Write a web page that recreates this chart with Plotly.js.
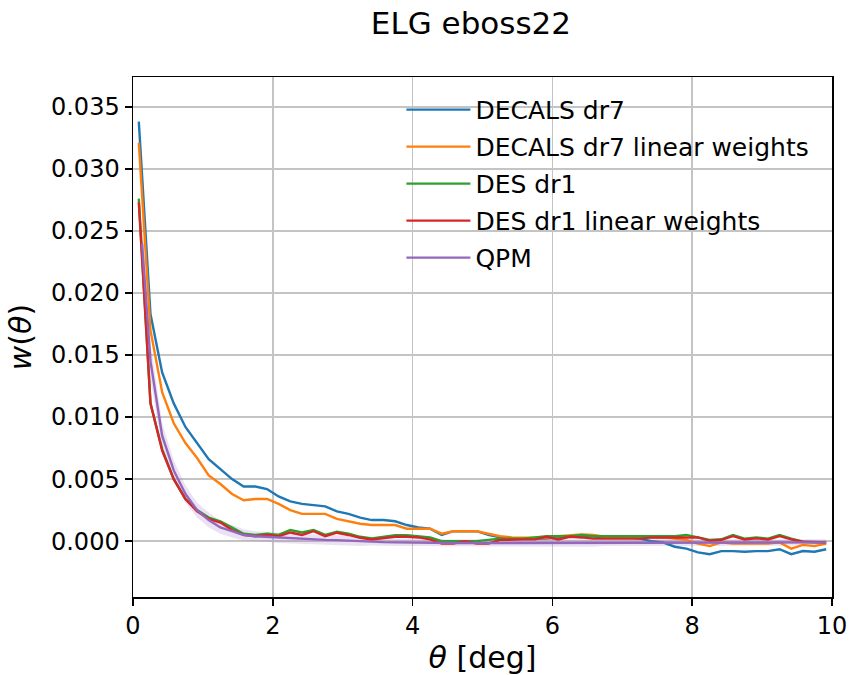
<!DOCTYPE html>
<html>
<head>
<meta charset="utf-8">
<script src="https://cdn.plot.ly/plotly-3.0.1.min.js"></script>
<style>html,body{margin:0;padding:0;background:#fff;}</style>
</head>
<body>
<div id="chart" style="width:850px;height:675px;"></div>
<script>
const theta = [0.083, 0.25, 0.417, 0.583, 0.75, 0.917, 1.083, 1.25, 1.417, 1.583,
  1.75, 1.917, 2.083, 2.25, 2.417, 2.583, 2.75, 2.917, 3.083, 3.25,
  3.417, 3.583, 3.75, 3.917, 4.083, 4.25, 4.417, 4.583, 4.75, 4.917,
  5.083, 5.25, 5.417, 5.583, 5.75, 5.917, 6.083, 6.25, 6.417, 6.583,
  6.75, 6.917, 7.083, 7.25, 7.417, 7.583, 7.75, 7.917, 8.083, 8.25,
  8.417, 8.583, 8.75, 8.917, 9.083, 9.25, 9.417, 9.583, 9.75, 9.917];

const qpmTheta = [0.13, 0.25, 0.417, 0.583, 0.75, 0.917, 1.083, 1.25, 1.417, 1.583,
  1.75, 1.917, 2.083, 2.25, 2.417, 2.583, 2.75, 2.917, 3.083, 3.25,
  3.417, 3.583, 3.75, 3.917, 4.083, 4.25, 4.417, 4.583, 4.75, 4.917,
  5.083, 5.25, 5.417, 5.583, 5.75, 5.917, 6.083, 6.25, 6.417, 6.583,
  6.75, 6.917, 7.083, 7.25, 7.417, 7.583, 7.75, 7.917, 8.083, 8.25,
  8.417, 8.583, 8.75, 8.917, 9.083, 9.25, 9.417, 9.583, 9.75, 9.917];

const decalsDr7 = [0.0338, 0.0183, 0.0136, 0.0111, 0.0092, 0.0079, 0.0066, 0.0058, 0.0050, 0.0044,
  0.0044, 0.0042, 0.0036, 0.0032, 0.0030, 0.0029, 0.0028, 0.0024, 0.0022, 0.0019,
  0.0017, 0.0017, 0.0016, 0.0013, 0.0011, 0.0010, 0.0005, 0.0008, 0.0008, 0.0008,
  0.0005, 0.0003, 0.0002, 0.0002, 0.0002, 0.0002, 0.0003, 0.0004, 0.0004, 0.0004,
  0.0003, 0.0003, 0.0003, 0.0002, 0.0000, -0.0001, -0.00045, -0.0006, -0.0009, -0.00105,
  -0.0008, -0.0008, -0.00085, -0.0008, -0.0008, -0.00065, -0.00105, -0.0008, -0.00085, -0.00065];

const decalsDr7Lin = [0.0321, 0.0170, 0.0120, 0.0095, 0.0079, 0.0067, 0.0053, 0.0046, 0.0038, 0.0033,
  0.0034, 0.0034, 0.0030, 0.0025, 0.0022, 0.0022, 0.0022, 0.0018, 0.0016, 0.0014,
  0.0013, 0.0013, 0.0013, 0.0010, 0.0010, 0.0010, 0.0006, 0.0008, 0.0008, 0.0008,
  0.0006, 0.0004, 0.0003, 0.0003, 0.0003, 0.00025, 0.0004, 0.0005, 0.00055, 0.0005,
  0.00035, 0.0003, 0.0003, 0.0003, 0.0003, 0.0003, 0.0002, 0.0001, -0.0002, -0.0004,
  -0.0001, -0.0002, -0.0002, -0.0002, -0.0002, -0.0001, -0.0006, -0.0003, -0.0004, -0.0002];

const desDr1 = [0.0276, 0.0111, 0.0074, 0.0050, 0.0034, 0.0025, 0.0019, 0.0016, 0.0011, 0.0006,
  0.0005, 0.0006, 0.0005, 0.0009, 0.0007, 0.0009, 0.0005, 0.00075, 0.0006, 0.00035,
  0.00022, 0.00035, 0.00048, 0.00048, 0.0004, 0.0003, 0.0000, 0.0000, 0.0000, 0.0000,
  0.0001, 0.0002, 0.0002, 0.0002, 0.0003, 0.0004, 0.0004, 0.0004, 0.0005, 0.0004,
  0.0004, 0.0004, 0.0004, 0.0004, 0.0004, 0.0004, 0.0004, 0.0005, 0.0003, 0.0001,
  0.00015, 0.0005, 0.0002, 0.0003, 0.0002, 0.0005, 0.0002, -0.00005, -0.0001, -0.0001];

const desDr1Lin = [0.0273, 0.0111, 0.0073, 0.0050, 0.0034, 0.0024, 0.0018, 0.0015, 0.0009, 0.0005,
  0.0004, 0.0005, 0.0004, 0.0007, 0.0005, 0.0008, 0.0004, 0.00068, 0.0005, 0.00027,
  0.00014, 0.00027, 0.00035, 0.00035, 0.0003, 0.00014, -0.0002, -0.0002, 0.0000, -0.0002,
  -0.0002, 0.0001, 0.00014, 0.00014, 0.00014, 0.00035, 0.00014, 0.00035, 0.0003, 0.0002,
  0.0002, 0.0002, 0.0002, 0.0002, 0.0003, 0.0003, 0.0003, 0.0003, 0.0003, 0.00003,
  0.0001, 0.0004, 0.00014, 0.00022, 0.00014, 0.0004, 0.00014, -0.00005, -0.0001, -0.0001];

const qpm = [0.0240, 0.0145, 0.0085, 0.0057, 0.0038, 0.0025, 0.0017, 0.0011, 0.0008, 0.0005,
  0.0004, 0.00035, 0.00025, 0.0002, 0.00015, 0.00012, 0.0001, 0.00008, 0.00003, 0.0,
  -0.00005, -0.00008, -0.0001, -0.00012, -0.00013, -0.00015, -0.00015, -0.00015, -0.00015, -0.00015,
  -0.00015, -0.00015, -0.00015, -0.00015, -0.00015, -0.00015, -0.00015, -0.00015, -0.00015, -0.00015,
  -0.00015, -0.00013, -0.00013, -0.00013, -0.00013, -0.00013, -0.00013, -0.00013, -0.00013, -0.00013,
  -0.0001, -0.0001, -0.0001, -0.0001, -0.0001, -0.0001, -0.0001, -0.0001, -0.0001, -0.0001];

const qpmErr = [0.002, 0.0015, 0.001, 0.0008, 0.0007, 0.0006, 0.0006, 0.0005, 0.0005, 0.00045,
  0.0004, 0.0004, 0.0004, 0.0004, 0.0004, 0.0004, 0.0004, 0.0004, 0.0004, 0.0004,
  0.0003, 0.0003, 0.0003, 0.0003, 0.0003, 0.0003, 0.0003, 0.0003, 0.0003, 0.0003,
  0.0003, 0.0003, 0.0003, 0.0003, 0.0003, 0.0003, 0.0003, 0.0003, 0.0003, 0.0003,
  0.00025, 0.00025, 0.00025, 0.00025, 0.00025, 0.00025, 0.00025, 0.00025, 0.00025, 0.00025,
  0.00025, 0.00025, 0.00025, 0.00025, 0.00025, 0.00025, 0.00025, 0.00025, 0.00025, 0.00025];

const seriesNames = ['DECALS dr7', 'DECALS dr7 linear weights', 'DES dr1', 'DES dr1 linear weights', 'QPM'];
const colors = ['#1f77b4', '#ff7f0e', '#2ca02c', '#d62728', '#9467bd'];

const upper = qpm.map((v, i) => v + qpmErr[i]);
const lower = qpm.map((v, i) => v - qpmErr[i]);

const band = {
  x: qpmTheta.concat(qpmTheta.slice().reverse()),
  y: upper.concat(lower.slice().reverse()),
  type: 'scatter', mode: 'lines', fill: 'toself',
  fillcolor: 'rgba(148,103,189,0.2)', line: {width: 0, color: 'rgba(0,0,0,0)'},
  showlegend: false, hoverinfo: 'skip'
};

const ys = [decalsDr7, decalsDr7Lin, desDr1, desDr1Lin];
const traces = [band];
ys.forEach((y, i) => {
  traces.push({x: theta, y: y, type: 'scatter', mode: 'lines', name: seriesNames[i],
    legendgroup: 'g' + i, line: {color: colors[i], width: 2.4}});
});
traces.push({x: qpmTheta, y: qpm, type: 'scatter', mode: 'lines', name: seriesNames[4],
  legendgroup: 'g4', line: {color: colors[4], width: 2.4}});

const F = 'DejaVu Sans, Verdana, sans-serif';
const layout = {
  width: 850, height: 675,
  margin: {l: 133, r: 18, t: 77, b: 78},
  paper_bgcolor: '#fff', plot_bgcolor: '#fff',
  font: {family: F, color: '#000'},
  title: {text: 'ELG eboss22', font: {size: 31, family: F, color: '#000'},
    xref: 'paper', x: 0.4835, xanchor: 'center', yref: 'container', y: 0.966, yanchor: 'middle'},
  xaxis: {
    range: [0, 10], dtick: 2, tick0: 0,
    showgrid: true, gridcolor: '#c4c4c4', gridwidth: 1.6,
    zeroline: false, showline: true, mirror: true, linecolor: '#000', linewidth: 1.5,
    ticks: 'outside', ticklen: 7, tickwidth: 1.5, tickcolor: '#000',
    tickfont: {size: 24, family: F, color: '#000'},
    title: {text: '<i>θ</i> [deg]', font: {size: 30, family: F, color: '#000'}, standoff: 8}
  },
  yaxis: {
    range: [-0.0045, 0.0374], dtick: 0.005, tick0: 0, tickformat: '.3f',
    showgrid: true, gridcolor: '#c4c4c4', gridwidth: 1.6,
    zeroline: false, showline: true, mirror: true, linecolor: '#000', linewidth: 1.5,
    ticks: 'outside', ticklen: 7, tickwidth: 1.5, tickcolor: '#000',
    tickfont: {size: 24, family: F, color: '#000'},
    title: {text: '<i>w</i>(<i>θ</i>)', font: {size: 30, family: F, color: '#000'}, standoff: 10}
  },
  legend: {
    x: 0.384, y: 0.981, xanchor: 'left', yanchor: 'top',
    bgcolor: 'rgba(0,0,0,0)', borderwidth: 0,
    font: {size: 25, family: F, color: '#000'},
    itemwidth: 64, tracegroupgap: 1.5, traceorder: 'grouped'
  },
  showlegend: true
};

Plotly.newPlot('chart', traces, layout, {displayModeBar: false, staticPlot: true});
</script>
</body>
</html>
